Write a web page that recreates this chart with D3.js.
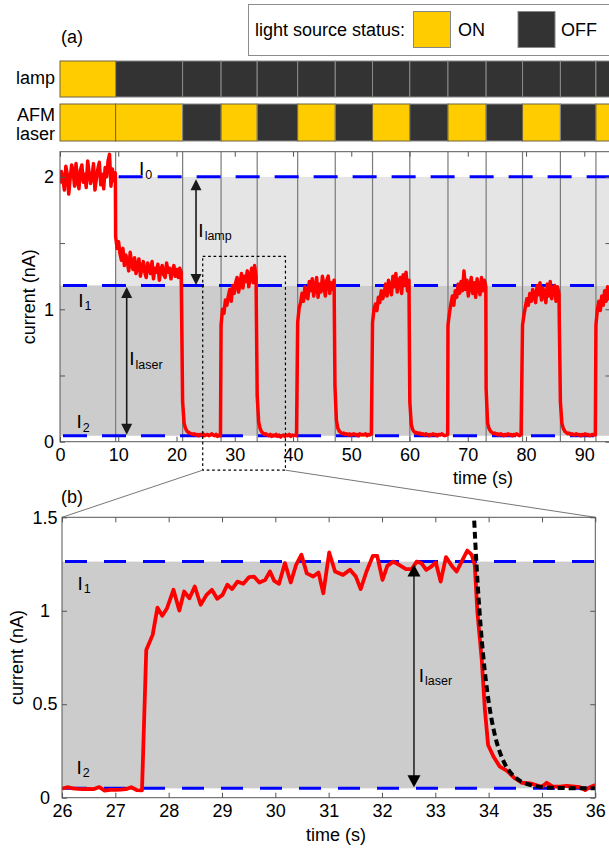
<!DOCTYPE html>
<html>
<head>
<meta charset="utf-8">
<script src="https://cdn.jsdelivr.net/npm/d3@7"></script>
<style>
  body { margin: 0; background: #fff; }
  svg { display: block; }
  text { font-family: "Liberation Sans", Arial, Helvetica, sans-serif; fill: #000; }
</style>
</head>
<body>
<svg id="fig" width="609" height="848"></svg>
<script>
// ---------------- data ----------------
// switching instants of the light sources (s); last entry is the end of the record
const switchTimes = [0, 9.55, 21.05, 27.65, 33.85, 40.8, 47.25, 53.65, 60.05, 66.6, 73.15, 79.4, 85.9, 92.0, 94.5];
// 1 = ON, 0 = OFF for each interval between switching instants
const lampState  = [1, 0, 0, 0, 0, 0, 0, 0, 0, 0, 0, 0, 0, 0];
const laserState = [1, 1, 0, 1, 0, 1, 0, 1, 0, 1, 0, 1, 0, 1];

// reference current levels (nA)
const levelsA = { I0: 2.0, I1: 1.18, I2: 0.045 };
const levelsB = { I1: 1.263, I2: 0.05 };

// full record (a): each block starts at a switching instant, sampled every 0.25 s
const sampleStepA = 0.25;
const traceStartA = [0, 9.55, 21.05, 27.65, 33.85, 40.8, 47.2, 53.65, 60.05, 66.6, 73.15, 79.4, 85.9, 92.0];
const traceValuesA = [
  [1.95, 2.04, 1.98, 1.9, 2.08, 2.02, 1.87, 1.99, 2.09, 2.04, 1.93, 2.1, 1.97, 1.91, 2.05, 2.09, 1.96, 2.02, 1.92, 2.12,
   2.03, 1.95, 2.0, 2.1, 1.9, 1.99, 2.06, 2.11, 1.94, 2.02, 1.91, 2.07, 2.0, 2.12, 2.17, 1.93, 2.06, 1.97, 2.03],
  [1.55, 1.46, 1.51, 1.42, 1.37, 1.46, 1.33, 1.41, 1.36, 1.29, 1.43, 1.34, 1.3, 1.39, 1.27, 1.33, 1.38, 1.25, 1.31, 1.36,
   1.28, 1.24, 1.35, 1.3, 1.27, 1.36, 1.23, 1.31, 1.28, 1.34, 1.22, 1.3, 1.33, 1.26, 1.24, 1.35, 1.28, 1.31, 1.23, 1.29,
   1.33, 1.25, 1.3, 1.24, 1.31, 1.28],
  [0.3, 0.14, 0.1, 0.08, 0.07, 0.065, 0.06, 0.055, 0.06, 0.05, 0.055, 0.045, 0.055, 0.05, 0.06, 0.045, 0.05, 0.055, 0.045, 0.05,
   0.06, 0.05, 0.045, 0.055, 0.04, 0.05, 0.045],
  [0.88, 1.0, 0.97, 1.07, 1.03, 1.1, 1.15, 1.06, 1.18, 1.12, 1.2, 1.24, 1.13, 1.19, 1.27, 1.16, 1.25, 1.21, 1.29, 1.17,
   1.24, 1.31, 1.2, 1.33, 1.25],
  [0.35, 0.15, 0.1, 0.075, 0.065, 0.055, 0.06, 0.05, 0.045, 0.055, 0.04, 0.05, 0.045, 0.055, 0.04, 0.05, 0.035, 0.045, 0.05, 0.04,
   0.05, 0.045, 0.055, 0.04, 0.05, 0.045, 0.05, 0.045],
  [0.9, 1.01, 1.05, 1.12, 1.06, 1.17, 1.1, 1.08, 1.21, 1.14, 1.23, 1.1, 1.16, 1.24, 1.09, 1.19, 1.13, 1.25, 1.18, 1.1,
   1.22, 1.25, 1.12, 1.2, 1.15, 1.22],
  [0.42, 0.16, 0.1, 0.08, 0.07, 0.06, 0.065, 0.055, 0.06, 0.05, 0.06, 0.05, 0.055, 0.06, 0.05, 0.055, 0.045, 0.06, 0.05, 0.055,
   0.05, 0.06, 0.045, 0.055, 0.05, 0.06],
  [0.9, 1.0, 1.04, 0.99, 1.09, 1.05, 1.14, 1.08, 1.12, 1.19, 1.1, 1.22, 1.15, 1.11, 1.25, 1.17, 1.27, 1.13, 1.21, 1.24,
   1.12, 1.26, 1.18, 1.28, 1.14, 1.22],
  [0.3, 0.13, 0.09, 0.075, 0.065, 0.07, 0.06, 0.065, 0.055, 0.06, 0.05, 0.06, 0.055, 0.045, 0.055, 0.05, 0.06, 0.05, 0.055, 0.045,
   0.055, 0.05, 0.06, 0.05, 0.045, 0.05, 0.055],
  [0.88, 0.97, 1.04, 1.1, 1.03, 1.14, 1.09, 1.19, 1.12, 1.21, 1.14, 1.29, 1.15, 1.22, 1.1, 1.18, 1.24, 1.12, 1.2, 1.09,
   1.23, 1.16, 1.11, 1.24, 1.14, 1.22, 1.17],
  [0.4, 0.14, 0.1, 0.08, 0.07, 0.06, 0.065, 0.055, 0.06, 0.05, 0.06, 0.055, 0.045, 0.055, 0.05, 0.06, 0.05, 0.055, 0.045, 0.055,
   0.05, 0.06, 0.05, 0.045, 0.055],
  [0.88, 0.96, 1.02, 1.08, 1.03, 1.12, 1.06, 1.15, 1.1, 1.05, 1.18, 1.11, 1.2, 1.07, 1.16, 1.12, 1.05, 1.19, 1.1, 1.21,
   1.08, 1.15, 1.18, 1.06, 1.17, 1.12],
  [0.3, 0.14, 0.1, 0.08, 0.07, 0.06, 0.065, 0.055, 0.06, 0.05, 0.055, 0.06, 0.05, 0.055, 0.045, 0.055, 0.05, 0.06, 0.05, 0.055,
   0.045, 0.05, 0.055, 0.05, 0.05],
  [0.88, 1.0, 1.06, 0.99, 1.1, 1.03, 1.14, 1.06, 1.17, 1.08, 1.16]
];

// detail (b): one laser ON/OFF cycle
const timeB = [26.0, 26.1, 26.2, 26.3, 26.4, 26.5, 26.6, 26.7, 26.8, 26.9, 27.0, 27.1, 27.2, 27.3, 27.4, 27.5, 27.58,
  27.7, 27.79, 27.88, 27.97, 28.09, 28.2, 28.29, 28.39, 28.49, 28.6, 28.71, 28.81, 28.91, 29.01, 29.1, 29.19, 29.29, 29.4,
  29.51, 29.6, 29.7, 29.81, 29.9, 29.98, 30.07, 30.18, 30.29, 30.39, 30.49, 30.59, 30.71, 30.81, 30.9, 31.01, 31.12, 31.27,
  31.4, 31.51, 31.6, 31.71, 31.83, 31.91, 32.01, 32.1, 32.21, 32.32, 32.45, 32.56, 32.65, 32.74, 32.83, 32.91, 33.01, 33.1,
  33.2, 33.31, 33.4, 33.51, 33.6, 33.68, 33.74, 33.79, 33.87, 33.93, 33.99, 34.09, 34.21, 34.34, 34.49, 34.62, 34.78, 34.93,
  35.0, 35.09, 35.2, 35.34, 35.46, 35.62, 35.71, 35.81, 35.9, 36.0];
const currentB = [0.048, 0.056, 0.05, 0.047, 0.046, 0.047, 0.046, 0.057, 0.038, 0.042, 0.042, 0.043, 0.046, 0.056, 0.041, 0.039, 0.79,
  0.871, 1.017, 0.973, 1.014, 1.112, 1.001, 1.103, 1.067, 1.13, 1.032, 1.085, 1.112, 1.064, 1.085, 1.139, 1.116, 1.156, 1.144,
  1.18, 1.183, 1.151, 1.165, 1.21, 1.16, 1.144, 1.255, 1.151, 1.246, 1.30, 1.20, 1.183, 1.204, 1.094, 1.312, 1.21, 1.192,
  1.219, 1.183, 1.116, 1.21, 1.294, 1.294, 1.165, 1.24, 1.263, 1.246, 1.223, 1.223, 1.263, 1.255, 1.219, 1.233, 1.258, 1.156,
  1.287, 1.24, 1.21, 1.272, 1.322, 1.30, 1.246, 0.99, 0.74, 0.47, 0.282, 0.22, 0.166, 0.145, 0.104, 0.08, 0.077, 0.063,
  0.059, 0.08, 0.059, 0.059, 0.063, 0.059, 0.056, 0.041, 0.056, 0.068];
// exponential decay fit of the OFF transient
const fitTimeB    = [33.71, 33.75, 33.8, 33.85, 33.9, 33.95, 34.0, 34.05, 34.1, 34.15, 34.2, 34.3, 34.4, 34.5, 34.6, 34.7, 34.8, 35.0, 35.2, 35.5, 35.8, 36.0];
const fitCurrentB = [1.60, 1.365, 1.118, 0.917, 0.754, 0.622, 0.514, 0.427, 0.356, 0.298, 0.252, 0.183, 0.138, 0.108, 0.088, 0.075, 0.067, 0.057, 0.053, 0.051, 0.05, 0.05];

// axes ticks
const xTicksA = [0, 10, 20, 30, 40, 50, 60, 70, 80, 90];
const yTicksA = [0, 0.5, 1, 1.5, 2];
const yLabelsA = ["0", "", "1", "", "2"];
const xTicksB = [26, 27, 28, 29, 30, 31, 32, 33, 34, 35, 36];
const yTicksB = [0, 0.5, 1, 1.5];
const yLabelsB = ["0", "0.5", "1", "1.5"];

// zoomed window drawn on (a): time range and current range
const zoomBoxT = [24.5, 38.7];
const zoomBoxI = [-0.215, 1.4];

// ---------------- layout ----------------
const COL = { on: "#ffcc00", off: "#333333", light: "#e5e5e5", mid: "#cccccc", blue: "#0000ff", red: "#ff0000", axis: "#555" };
const svg = d3.select("#fig");

const xA = d3.scaleLinear().domain([0, 94.5]).range([60, 610.5]);
const yA = d3.scaleLinear().domain([0, 2.19]).range([441.7, 151.7]);
const xB = d3.scaleLinear().domain([26, 36]).range([62, 595.3]);
const yB = d3.scaleLinear().domain([0, 1.5]).range([797.7, 517.3]);

const defs = svg.append("defs");
defs.append("clipPath").attr("id", "clipA").append("rect")
  .attr("x", xA(0)).attr("y", yA(2.19)).attr("width", xA(94.5) - xA(0)).attr("height", yA(0) - yA(2.19));
defs.append("clipPath").attr("id", "clipB").append("rect")
  .attr("x", xB(26)).attr("y", yB(1.5)).attr("width", xB(36) - xB(26)).attr("height", yB(0) - yB(1.5));

// ---------------- legend ----------------
const leg = svg.append("g");
leg.append("rect").attr("x", 248.5).attr("y", 4.5).attr("width", 370).attr("height", 51)
  .attr("fill", "#fff").attr("stroke", "#8c8c8c").attr("stroke-width", 1);
leg.append("text").attr("x", 255).attr("y", 35.5).attr("font-size", 18).text("light source status:");
leg.append("rect").attr("x", 413.5).attr("y", 11.5).attr("width", 37).attr("height", 36)
  .attr("fill", COL.on).attr("stroke", "#888");
leg.append("text").attr("x", 458).attr("y", 36).attr("font-size", 18).text("ON");
leg.append("rect").attr("x", 518).attr("y", 11.5).attr("width", 37).attr("height", 36)
  .attr("fill", COL.off).attr("stroke", "#888");
leg.append("text").attr("x", 561).attr("y", 36).attr("font-size", 18).text("OFF");

svg.append("text").attr("x", 61).attr("y", 43).attr("font-size", 18).text("(a)");
svg.append("text").attr("x", 61).attr("y", 503).attr("font-size", 18).text("(b)");

// ---------------- status bars ----------------
const intervals = d3.pairs(switchTimes);
const barRows = [
  { states: lampState, y0: 61, y1: 97 },
  { states: laserState, y0: 104, y1: 141 }
];
barRows.forEach(row => {
  svg.append("g").selectAll("rect").data(intervals).join("rect")
    .attr("x", d => xA(d[0])).attr("width", d => xA(d[1]) - xA(d[0]))
    .attr("y", row.y0).attr("height", row.y1 - row.y0)
    .attr("fill", (d, i) => row.states[i] ? COL.on : COL.off)
    .attr("stroke", (d, i) => row.states[i] ? "#6e6440" : "#8a8a8a").attr("stroke-width", 1);
});
svg.append("text").attr("x", 55).attr("y", 84).attr("font-size", 18).attr("text-anchor", "end").text("lamp");
svg.append("text").attr("x", 55).attr("y", 121).attr("font-size", 18).attr("text-anchor", "end").text("AFM");
svg.append("text").attr("x", 55).attr("y", 140).attr("font-size", 18).attr("text-anchor", "end").text("laser");

// ---------------- panel (a) ----------------
const gA = svg.append("g");
const tEndA = switchTimes[switchTimes.length - 1];
gA.append("rect").attr("x", xA(0)).attr("width", xA(tEndA) - xA(0))
  .attr("y", yA(levelsA.I1)).attr("height", yA(levelsA.I2) - yA(levelsA.I1)).attr("fill", COL.mid);
gA.append("rect").attr("x", xA(switchTimes[1])).attr("width", xA(tEndA) - xA(switchTimes[1]))
  .attr("y", yA(levelsA.I0)).attr("height", yA(levelsA.I1) - yA(levelsA.I0)).attr("fill", COL.light);

gA.append("g").selectAll("line").data(switchTimes.slice(1, -1)).join("line")
  .attr("x1", d => xA(d)).attr("x2", d => xA(d)).attr("y1", yA(2.19)).attr("y2", yA(0))
  .attr("stroke", "#7a7a7a").attr("stroke-width", 1.2);

const dashA = [
  { v: levelsA.I0, t0: switchTimes[1] },
  { v: levelsA.I1, t0: 0 },
  { v: levelsA.I2, t0: 0 }
];
gA.append("g").selectAll("line").data(dashA).join("line")
  .attr("x1", d => xA(d.t0)).attr("x2", xA(tEndA)).attr("y1", d => yA(d.v)).attr("y2", d => yA(d.v))
  .attr("stroke", COL.blue).attr("stroke-width", 3).attr("stroke-dasharray", "24,15").attr("stroke-dashoffset", -3);

// assemble the record from its blocks
const traceA = [];
traceStartA.forEach((t0, k) => {
  const tNext = k + 1 < traceStartA.length ? traceStartA[k + 1] : tEndA + 1;
  traceValuesA[k].forEach((v, i) => {
    const t = t0 + i * sampleStepA;
    if (t < tNext - 1e-6) traceA.push([t, v]);
  });
});
gA.append("path").datum(traceA).attr("clip-path", "url(#clipA)")
  .attr("d", d3.line().x(d => xA(d[0])).y(d => yA(d[1])))
  .attr("fill", "none").attr("stroke", COL.red).attr("stroke-width", 3.5).attr("stroke-linejoin", "round");

// axes (a)
function styleAxis(g) {
  g.select(".domain").remove();
  g.selectAll(".tick line").attr("stroke", COL.axis);
  g.selectAll(".tick text").attr("font-size", 18).attr("font-family", '"Liberation Sans", Arial, sans-serif').attr("fill", "#000");
}
gA.append("rect").attr("x", xA(0)).attr("y", yA(2.19)).attr("width", xA(tEndA) - xA(0)).attr("height", yA(0) - yA(2.19))
  .attr("fill", "none").attr("stroke", COL.axis).attr("stroke-width", 1);
gA.append("g").attr("transform", `translate(0,${yA(0)})`)
  .call(d3.axisBottom(xA).tickValues(xTicksA).tickSize(-5).tickPadding(7).tickFormat(d3.format("d"))).call(styleAxis);
gA.append("g").attr("transform", `translate(0,${yA(2.19)})`)
  .call(d3.axisTop(xA).tickValues(xTicksA).tickSize(-5).tickFormat("")).call(styleAxis);
gA.append("g").attr("transform", `translate(${xA(0)},0)`)
  .call(d3.axisLeft(yA).tickValues(yTicksA).tickSize(-5).tickPadding(6).tickFormat((d, i) => yLabelsA[i])).call(styleAxis);
gA.append("g").attr("transform", `translate(${xA(tEndA)},0)`)
  .call(d3.axisRight(yA).tickValues(yTicksA).tickSize(-5).tickFormat("")).call(styleAxis);

gA.append("text").attr("x", 483).attr("y", 484).attr("font-size", 18).attr("text-anchor", "middle").text("time (s)");
gA.append("text").attr("transform", `translate(35,${(yA(0) + yA(2.19)) / 2}) rotate(-90)`)
  .attr("font-size", 18).attr("text-anchor", "middle").text("current (nA)");

// double arrows marking the current steps
function dblArrow(g, x, yTop, yBot, len, half, width, color) {
  g.append("line").attr("x1", x).attr("x2", x).attr("y1", yTop + len - 1).attr("y2", yBot - len + 1)
    .attr("stroke", color).attr("stroke-width", width);
  g.append("path").attr("d", `M${x},${yTop}L${x - half},${yTop + len}L${x + half},${yTop + len}Z`).attr("fill", color);
  g.append("path").attr("d", `M${x},${yBot}L${x - half},${yBot - len}L${x + half},${yBot - len}Z`).attr("fill", color);
}
dblArrow(gA, xA(23.35), yA(levelsA.I0) + 2.5, yA(levelsA.I1) - 0.5, 11, 5.5, 1.6, "#1a1a1a");
dblArrow(gA, xA(11.45), yA(levelsA.I1) + 1.5, yA(levelsA.I2) - 1, 11, 5.5, 1.6, "#1a1a1a");

function levelLabel(g, x, y, sub) {
  const t = g.append("text").attr("x", x).attr("y", y).attr("font-size", 19);
  t.append("tspan").text("I");
  t.append("tspan").attr("font-size", 12.5).attr("dy", 3.5).attr("dx", 1).text(sub);
}
levelLabel(gA, xA(13.57), yA(2.014), "0");
levelLabel(gA, xA(23.75), yA(1.546), "lamp");
levelLabel(gA, xA(3.13), yA(1.02), "1");
levelLabel(gA, xA(11.89), yA(0.579), "laser");
levelLabel(gA, xA(2.84), yA(0.101), "2");

// zoomed window and its connectors to (b)
svg.append("rect").attr("x", xA(zoomBoxT[0])).attr("y", yA(zoomBoxI[1]))
  .attr("width", xA(zoomBoxT[1]) - xA(zoomBoxT[0])).attr("height", yA(zoomBoxI[0]) - yA(zoomBoxI[1]))
  .attr("fill", "none").attr("stroke", "#000").attr("stroke-width", 1.2).attr("stroke-dasharray", "2.7,2.7");
svg.append("line").attr("x1", xA(zoomBoxT[0])).attr("y1", yA(zoomBoxI[0])).attr("x2", xB(26)).attr("y2", yB(1.5))
  .attr("stroke", "#666").attr("stroke-width", 0.9);
svg.append("line").attr("x1", xA(zoomBoxT[1])).attr("y1", yA(zoomBoxI[0])).attr("x2", xB(36)).attr("y2", yB(1.5))
  .attr("stroke", "#666").attr("stroke-width", 0.9);

// ---------------- panel (b) ----------------
const gB = svg.append("g");
gB.append("rect").attr("x", xB(26)).attr("width", xB(36) - xB(26))
  .attr("y", yB(levelsB.I1)).attr("height", yB(levelsB.I2) - yB(levelsB.I1)).attr("fill", COL.mid);
gB.append("g").selectAll("line").data([levelsB.I1, levelsB.I2]).join("line")
  .attr("x1", xB(26)).attr("x2", xB(36)).attr("y1", d => yB(d)).attr("y2", d => yB(d))
  .attr("stroke", COL.blue).attr("stroke-width", 3).attr("stroke-dasharray", "22,17").attr("stroke-dashoffset", -3);

gB.append("path").datum(d3.zip(timeB, currentB)).attr("clip-path", "url(#clipB)")
  .attr("d", d3.line().x(d => xB(d[0])).y(d => yB(d[1])))
  .attr("fill", "none").attr("stroke", COL.red).attr("stroke-width", 3.8).attr("stroke-linejoin", "round");
gB.append("path").datum(d3.zip(fitTimeB, fitCurrentB)).attr("clip-path", "url(#clipB)")
  .attr("d", d3.line().curve(d3.curveMonotoneX).x(d => xB(d[0])).y(d => yB(d[1])))
  .attr("fill", "none").attr("stroke", "#000").attr("stroke-width", 4).attr("stroke-dasharray", "7,4");

gB.append("rect").attr("x", xB(26)).attr("y", yB(1.5)).attr("width", xB(36) - xB(26)).attr("height", yB(0) - yB(1.5))
  .attr("fill", "none").attr("stroke", COL.axis).attr("stroke-width", 1);
gB.append("g").attr("transform", `translate(0,${yB(0)})`)
  .call(d3.axisBottom(xB).tickValues(xTicksB).tickSize(-5).tickPadding(7).tickFormat(d3.format("d"))).call(styleAxis);
gB.append("g").attr("transform", `translate(0,${yB(1.5)})`)
  .call(d3.axisTop(xB).tickValues(xTicksB).tickSize(-5).tickFormat("")).call(styleAxis);
const yAxB = gB.append("g").attr("transform", `translate(${xB(26)},0)`)
  .call(d3.axisLeft(yB).tickValues(yTicksB).tickSize(-5).tickFormat((d, i) => yLabelsB[i])).call(styleAxis);
yAxB.selectAll(".tick text").attr("text-anchor", "middle").attr("x", -17);
gB.append("g").attr("transform", `translate(${xB(36)},0)`)
  .call(d3.axisRight(yB).tickValues(yTicksB).tickSize(-5).tickFormat("")).call(styleAxis);

gB.append("text").attr("x", 336).attr("y", 841).attr("font-size", 18).attr("text-anchor", "middle").text("time (s)");
gB.append("text").attr("transform", `translate(23,${(yB(0) + yB(1.5)) / 2}) rotate(-90)`)
  .attr("font-size", 18).attr("text-anchor", "middle").text("current (nA)");

dblArrow(gB, xB(32.6), yB(levelsB.I1) + 3, yB(levelsB.I2) - 1, 12, 6.5, 1.3, "#000");
levelLabel(gB, xB(26.29), yB(1.112), "1");
levelLabel(gB, xB(26.27), yB(0.127), "2");
levelLabel(gB, xB(32.69), yB(0.621), "laser");
</script>
</body>
</html>
